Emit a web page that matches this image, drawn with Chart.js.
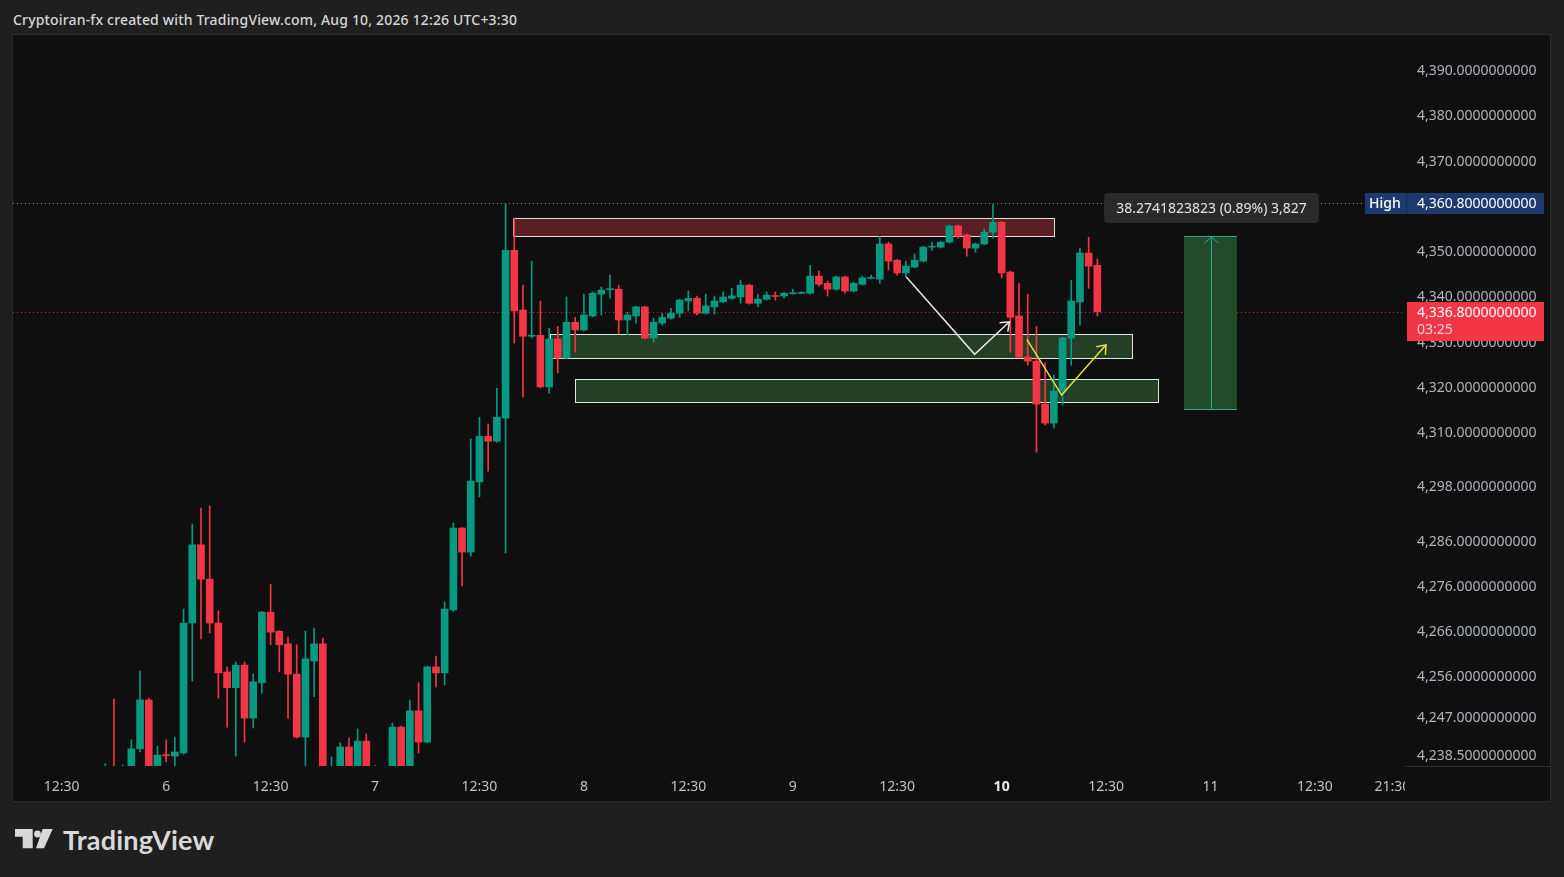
<!DOCTYPE html>
<html>
<head>
<meta charset="utf-8">
<title>XAU 1H</title>
<script src="https://cdn.jsdelivr.net/npm/chart.js@4.4.1/dist/chart.umd.min.js"></script>
<style>
    html, body { margin: 0; padding: 0; width: 1564px; height: 877px; overflow: hidden; background: #1f1f1f; }
    #cabecera { position: absolute; left: 13px; top: 10px; line-height: 19px; font: 500 14px "Noto Sans", sans-serif; letter-spacing: 0.17px; color: #d6d6d6; white-space: nowrap; }
    #panel { position: absolute; left: 12px; top: 34px; width: 1537px; height: 766px; border: 1px solid #2c2c2c; background: #0f0f0f; }
    #panel canvas { display: block; }
    #logo { position: absolute; left: 15px; top: 826px; height: 26px; display: flex; align-items: center; }
    #logo span { margin-left: 10px; font: bold 27px Lato, sans-serif; color: #d9d9d9; letter-spacing: 0.2px; }
</style>
</head>
<body>
<div id="cabecera">Cryptoiran-fx created with TradingView.com, Aug 10, 2026 12:26 UTC+3:30</div>
<div id="panel"><canvas id="grafica" width="1537" height="766"></canvas></div>
<div id="logo">
    <svg width="38" height="20" viewBox="0 0 38 20">
        <path d="M0 0H17.7V19.3H7.7V7.7H0Z" fill="#d9d9d9"/>
        <circle cx="22.5" cy="5" r="3.4" fill="#d9d9d9"/>
        <path d="M27.7 0H37.7L29 19.3H21Z" fill="#d9d9d9"/>
    </svg>
    <span>TradingView</span>
</div>
<script>
"use strict";
/* Velas de 1 hora (índice 0 = primera vela visible a la izquierda) */
const aperturas = [
    4228.0, 4234.0, 4230.0, 4233.0, 4240.2, 4251.0, 4235.0, 4238.9, 4238.6, 4239.3,
    4268.0, 4285.3, 4277.7, 4268.0, 4257.2, 4253.7, 4258.7, 4247.0, 4254.8, 4270.4,
    4266.2, 4263.4, 4256.7, 4242.8, 4259.6, 4263.4, 4229.0, 4234.0, 4240.6, 4234.0,
    4241.9, 4234.0, 4232.0, 4234.0, 4245.0, 4234.0, 4248.6, 4241.7, 4258.3, 4257.0,
    4270.9, 4289.0, 4283.7, 4299.2, 4309.3, 4308.2, 4313.3, 4350.4, 4337.2, 4331.4,
    4331.6, 4320.2, 4330.8, 4326.6, 4334.5, 4332.8, 4335.9, 4340.7, 4341.7, 4341.8,
    4335.0, 4335.9, 4337.9, 4331.0, 4334.3, 4335.4, 4336.5, 4339.2, 4339.8, 4336.5,
    4337.9, 4339.0, 4339.8, 4340.1, 4342.7, 4338.7, 4339.6, 4340.4, 4340.3, 4340.8,
    4340.9, 4340.9, 4344.7, 4343.1, 4341.8, 4344.5, 4341.4, 4342.9, 4344.2, 4344.0,
    4351.8, 4348.2, 4345.4, 4346.7, 4348.0, 4351.1, 4351.1, 4352.2, 4355.8, 4353.8,
    4350.9, 4351.8, 4354.4, 4356.6, 4345.6, 4335.9, 4326.8, 4325.9, 4316.4, 4312.2,
    4319.3, 4331.0, 4339.0, 4349.8, 4347.1
];
const maximos = [
    4236.9, 4251.2, 4236.6, 4242.2, 4257.4, 4251.4, 4240.8, 4242.2, 4242.8, 4271.1,
    4289.9, 4293.4, 4293.9, 4270.7, 4258.3, 4259.4, 4259.4, 4256.7, 4270.6, 4276.6,
    4266.3, 4264.9, 4263.2, 4266.2, 4266.9, 4264.7, 4238.4, 4241.5, 4242.6, 4244.6,
    4243.5, 4236.5, 4235.0, 4245.9, 4245.2, 4251.0, 4254.8, 4258.5, 4260.7, 4272.7,
    4290.1, 4289.1, 4308.7, 4313.5, 4312.0, 4319.9, 4360.8, 4357.5, 4342.7, 4348.0,
    4339.2, 4333.2, 4333.6, 4340.1, 4335.6, 4340.7, 4341.2, 4342.3, 4344.9, 4342.7,
    4336.7, 4338.1, 4338.0, 4335.4, 4336.5, 4337.6, 4339.6, 4341.4, 4340.3, 4340.7,
    4340.3, 4341.2, 4342.0, 4343.8, 4342.9, 4340.7, 4341.2, 4341.2, 4341.1, 4341.8,
    4341.2, 4347.1, 4345.8, 4343.6, 4344.7, 4344.7, 4343.3, 4344.7, 4344.9, 4353.5,
    4352.2, 4348.4, 4348.0, 4349.6, 4351.3, 4352.2, 4352.4, 4356.0, 4356.0, 4354.0,
    4352.0, 4355.1, 4360.5, 4356.8, 4345.8, 4343.1, 4340.7, 4333.6, 4325.5, 4322.8,
    4331.2, 4343.8, 4350.9, 4353.3, 4348.5
];
const minimos = [
    4226.0, 4225.0, 4227.0, 4230.0, 4239.5, 4232.0, 4233.0, 4237.3, 4236.4, 4239.0,
    4255.2, 4264.5, 4265.8, 4251.4, 4245.0, 4238.6, 4241.7, 4244.8, 4252.5, 4263.2,
    4257.2, 4247.0, 4242.6, 4236.4, 4251.7, 4230.0, 4226.0, 4232.0, 4232.0, 4232.0,
    4231.0, 4232.0, 4230.0, 4232.0, 4232.0, 4232.0, 4239.3, 4241.5, 4253.9, 4254.3,
    4270.6, 4276.2, 4282.8, 4295.9, 4301.6, 4308.0, 4283.5, 4329.9, 4318.0, 4331.0,
    4320.0, 4318.8, 4323.3, 4326.4, 4327.9, 4332.6, 4335.7, 4336.1, 4339.8, 4331.9,
    4331.7, 4334.3, 4330.8, 4330.1, 4333.9, 4335.2, 4335.6, 4337.0, 4336.1, 4336.3,
    4336.3, 4338.8, 4339.6, 4338.7, 4338.5, 4337.9, 4339.4, 4339.4, 4339.8, 4340.7,
    4340.8, 4340.7, 4342.5, 4340.3, 4341.6, 4340.9, 4341.2, 4342.7, 4344.1, 4343.1,
    4346.0, 4344.9, 4344.5, 4346.5, 4347.8, 4350.4, 4350.9, 4352.0, 4353.1, 4349.1,
    4350.0, 4351.6, 4353.1, 4344.3, 4327.9, 4326.6, 4325.0, 4305.8, 4311.8, 4311.1,
    4316.2, 4325.0, 4333.9, 4342.0, 4335.9
];
const cierres = [
    4232.0, 4229.0, 4233.0, 4240.2, 4251.0, 4234.0, 4238.8, 4238.7, 4239.5, 4268.0,
    4285.3, 4277.7, 4268.0, 4257.0, 4253.7, 4258.7, 4247.0, 4255.0, 4270.4, 4266.0,
    4263.2, 4256.7, 4242.8, 4260.1, 4263.4, 4233.0, 4233.0, 4240.6, 4234.0, 4241.9,
    4233.0, 4235.0, 4233.0, 4245.0, 4234.0, 4248.6, 4241.7, 4258.3, 4257.0, 4271.1,
    4289.0, 4283.7, 4299.4, 4309.3, 4308.2, 4313.5, 4350.4, 4337.0, 4331.4, 4331.6,
    4320.2, 4330.8, 4326.6, 4334.5, 4332.8, 4336.1, 4340.9, 4341.6, 4341.9, 4335.0,
    4336.1, 4337.9, 4331.0, 4334.5, 4335.6, 4336.5, 4339.4, 4339.8, 4336.5, 4338.1,
    4339.2, 4340.1, 4340.3, 4342.7, 4338.7, 4339.6, 4340.5, 4340.2, 4340.9, 4341.0,
    4341.0, 4344.7, 4342.9, 4341.8, 4344.5, 4341.4, 4343.1, 4344.3, 4344.3, 4351.8,
    4348.0, 4345.4, 4346.9, 4348.2, 4351.1, 4351.3, 4352.2, 4355.8, 4353.5, 4350.9,
    4351.8, 4354.4, 4356.6, 4345.4, 4335.6, 4326.8, 4325.9, 4316.4, 4312.2, 4319.3,
    4331.0, 4339.2, 4349.8, 4346.9, 4336.8
];

/* Eje de tiempo: posición (en velas) y texto */
const posicionesTiempo = [-5, 7, 19, 31, 43, 55, 67, 79, 91, 103, 115, 127, 139, 147.9];
const etiquetasTiempo = ["12:30", "6", "12:30", "7", "12:30", "8", "12:30", "9", "12:30", "10", "12:30", "11", "12:30", "21:30"];

/* Eje de precio */
const marcasPrecio = [4390, 4380, 4370, 4360, 4350, 4340, 4330, 4320, 4310, 4298, 4286, 4276, 4266, 4256, 4247, 4238.5];
const precioMin = 4236.4;
const precioMax = 4398.0;

/* Zonas dibujadas (oferta / demanda) */
const zonaInicio = [46.9, 51.1, 54.0];
const zonaFin = [109.0, 118.0, 121.0];
const zonaArriba = [4357.5, 4331.8, 4321.9];
const zonaAbajo = [4353.5, 4326.7, 4316.9];
const zonaTipo = ["oferta", "demanda", "demanda"];

/* Flechas */
const flechaBlancaX = [92.05, 99.9, 103.9];
const flechaBlancaY = [4344.5, 4327.4, 4334.6];
const flechaAmarillaX = [105.9, 109.9, 115.0];
const flechaAmarillaY = [4330.7, 4318.4, 4329.5];

/* Herramienta de medición */
const medidaX = [123.9, 130.0];
const medidaY = [4315.3, 4353.6];
const medidaTexto = "38.2741823823 (0.89%) 3,827";

/* Precios marcados */
const precioAlto = 4360.8;
const precioUltimo = 4336.8;
const cuentaAtras = "03:25";

const VERDE = "#089981";
const ROJO = "#f23645";
const FONDO = "#0f0f0f";
const FUENTE = "'Noto Sans', sans-serif";

function formatoPrecio(v) {
    return v.toLocaleString("en-US", { minimumFractionDigits: 10, maximumFractionDigits: 10 });
}

const indices = aperturas.map((_, i) => i);
const colores = indices.map(i => cierres[i] >= aperturas[i] ? VERDE : ROJO);

/* Línea quebrada con punta de flecha */
function flecha(ctx, puntos, color) {
    ctx.strokeStyle = color;
    ctx.lineWidth = 1.5;
    ctx.beginPath();
    puntos.forEach((p, k) => k ? ctx.lineTo(p[0], p[1]) : ctx.moveTo(p[0], p[1]));
    ctx.stroke();
    const [px, py] = puntos[puntos.length - 2];
    const [ex, ey] = puntos[puntos.length - 1];
    const ang = Math.atan2(ey - py, ex - px);
    const largo = 10;
    ctx.beginPath();
    ctx.moveTo(ex - largo * Math.cos(ang - 0.65), ey - largo * Math.sin(ang - 0.65));
    ctx.lineTo(ex, ey);
    ctx.lineTo(ex - largo * Math.cos(ang + 0.65), ey - largo * Math.sin(ang + 0.65));
    ctx.stroke();
}

function lineaPunteada(ctx, x0, x1, yy, color) {
    ctx.save();
    ctx.strokeStyle = color;
    ctx.lineWidth = 1;
    ctx.setLineDash([1, 3]);
    ctx.beginPath();
    ctx.moveTo(x0, Math.round(yy) + 0.5);
    ctx.lineTo(x1, Math.round(yy) + 0.5);
    ctx.stroke();
    ctx.restore();
}

/* Dibujos encima y debajo de las velas */
const dibujos = {
    id: "dibujos",
    beforeDatasetsDraw(chart) {
        const { ctx, chartArea: a, scales: { x, y } } = chart;
        ctx.save();
        ctx.beginPath();
        ctx.rect(a.left, a.top, a.width, a.height);
        ctx.clip();

        zonaInicio.forEach((inicio, k) => {
            const x0 = Math.round(x.getPixelForValue(inicio));
            const x1 = Math.round(x.getPixelForValue(zonaFin[k]));
            const y0 = Math.round(y.getPixelForValue(zonaArriba[k]));
            const y1 = Math.round(y.getPixelForValue(zonaAbajo[k]));
            const oferta = zonaTipo[k] === "oferta";
            ctx.fillStyle = oferta ? "#5a1f25" : "#253f27";
            ctx.fillRect(x0, y0, x1 - x0, y1 - y0);
            ctx.strokeStyle = oferta ? "#e9dcdc" : "#dfe9dc";
            ctx.lineWidth = 1;
            ctx.strokeRect(x0 + 0.5, y0 + 0.5, x1 - x0, y1 - y0);
        });

        const yAlto = y.getPixelForValue(precioAlto);
        lineaPunteada(ctx, a.left, a.right - 40, yAlto, "#8a8a8a");
        const yUltimo = y.getPixelForValue(precioUltimo);
        lineaPunteada(ctx, a.left, a.right, yUltimo, "rgba(242,54,69,0.8)");
        ctx.restore();
    },
    afterDatasetsDraw(chart) {
        const { ctx, chartArea: a, scales: { x, y } } = chart;
        ctx.save();
        ctx.beginPath();
        ctx.rect(a.left, a.top, a.width, a.height);
        ctx.clip();

        flecha(ctx, flechaBlancaX.map((v, k) => [x.getPixelForValue(v), y.getPixelForValue(flechaBlancaY[k])]), "#e6e6e6");
        flecha(ctx, flechaAmarillaX.map((v, k) => [x.getPixelForValue(v), y.getPixelForValue(flechaAmarillaY[k])]), "#e3e33f");

        /* Caja de medición */
        const mx0 = Math.round(x.getPixelForValue(medidaX[0]));
        const mx1 = Math.round(x.getPixelForValue(medidaX[1]));
        const myAbajo = Math.round(y.getPixelForValue(medidaY[0]));
        const myArriba = Math.round(y.getPixelForValue(medidaY[1]));
        const cx = Math.round((mx0 + mx1) / 2) + 0.5;
        ctx.fillStyle = "#234a2b";
        ctx.fillRect(mx0, myArriba, mx1 - mx0, myAbajo - myArriba);
        ctx.strokeStyle = "#22ab94";
        ctx.lineWidth = 1;
        ctx.beginPath();
        ctx.moveTo(mx0, myArriba + 0.5); ctx.lineTo(mx1, myArriba + 0.5);
        ctx.moveTo(mx0, myAbajo + 0.5); ctx.lineTo(mx1, myAbajo + 0.5);
        ctx.moveTo(cx, myAbajo); ctx.lineTo(cx, myArriba + 1);
        ctx.moveTo(cx - 7, myArriba + 7); ctx.lineTo(cx, myArriba + 1); ctx.lineTo(cx + 7, myArriba + 7);
        ctx.stroke();

        /* Etiqueta de la medición */
        ctx.font = "14px " + FUENTE;
        const ancho = ctx.measureText(medidaTexto).width + 24;
        const alto = 30;
        const ex = cx - ancho / 2;
        const ey = myArriba - 13 - alto;
        ctx.fillStyle = "#2a2a2a";
        ctx.beginPath();
        ctx.roundRect(ex, ey, ancho, alto, 4);
        ctx.fill();
        ctx.fillStyle = "#e6e6e6";
        ctx.textAlign = "center";
        ctx.textBaseline = "middle";
        ctx.fillText(medidaTexto, cx, ey + alto / 2 + 1);
        ctx.restore();
    },
    afterDraw(chart) {
        const { ctx, chartArea: a, scales: { y } } = chart;
        ctx.save();

        /* Esquina bajo el eje de precios */
        ctx.fillStyle = FONDO;
        ctx.fillRect(a.right, a.bottom, chart.width - a.right, chart.height - a.bottom);
        ctx.strokeStyle = "#2e2e2e";
        ctx.beginPath();
        ctx.moveTo(a.right, a.bottom + 0.5);
        ctx.lineTo(chart.width, a.bottom + 0.5);
        ctx.stroke();

        ctx.textBaseline = "middle";
        ctx.textAlign = "left";

        /* Etiqueta del máximo */
        const yAlto = Math.round(y.getPixelForValue(precioAlto));
        ctx.fillStyle = "#1c3a6f";
        ctx.fillRect(a.right - 40, yAlto - 10, 179, 21);
        ctx.fillStyle = "#132a52";
        ctx.fillRect(a.right + 1, yAlto - 10, 1, 21);
        ctx.fillStyle = "#ffffff";
        ctx.font = "500 14px " + FUENTE;
        ctx.fillText("High", a.right - 36, yAlto + 1);
        ctx.font = "14px " + FUENTE;
        ctx.fillText(formatoPrecio(precioAlto), a.right + 12, yAlto + 1);

        /* Etiqueta del último precio */
        const yUltimo = Math.round(y.getPixelForValue(precioUltimo));
        ctx.fillStyle = ROJO;
        ctx.fillRect(a.right + 2, yUltimo - 10, 137, 39);
        ctx.fillStyle = "#ffffff";
        ctx.fillText(formatoPrecio(precioUltimo), a.right + 12, yUltimo + 1);
        ctx.fillStyle = "#ffd0d4";
        ctx.fillText(cuentaAtras, a.right + 12, yUltimo + 18);
        ctx.restore();
    }
};

/* Crear la gráfica de velas */
function inicializarGrafica() {
    const canvas = document.getElementById("grafica");
    if (!canvas) return;

    new Chart(canvas, {
        type: "bar",
        data: {
            datasets: [{
                label: "Cuerpo",
                data: indices.map(i => ({ x: i, y: [aperturas[i], cierres[i]] })),
                backgroundColor: colores,
                barThickness: 7,
                minBarLength: 1,
                grouped: false,
                clip: 0
            }, {
                label: "Mecha",
                data: indices.map(i => ({ x: i, y: [minimos[i], maximos[i]] })),
                backgroundColor: colores,
                barThickness: 1,
                grouped: false,
                clip: 0
            }]
        },
        options: {
            responsive: false,
            animation: false,
            layout: { padding: 0 },
            plugins: { legend: { display: false }, tooltip: { enabled: false } },
            scales: {
                x: {
                    type: "linear",
                    min: -10.6,
                    max: 149.35,
                    offset: false,
                    grid: { display: false, drawTicks: false },
                    border: { display: false },
                    afterBuildTicks: s => { s.ticks = posicionesTiempo.map(v => ({ value: v })); },
                    afterFit: s => { s.height = 35; s.paddingLeft = 0; s.paddingRight = 0; },
                    ticks: {
                        autoSkip: false,
                        maxRotation: 0,
                        padding: 13,
                        callback: (v, k) => etiquetasTiempo[k],
                        color: c => (c.tick && c.tick.label === "10") ? "#ececec" : "#c2c2c2",
                        font: c => ({ family: FUENTE, size: 14, weight: (c.tick && c.tick.label === "10") ? "bold" : "normal" })
                    }
                },
                y: {
                    position: "right",
                    min: precioMin,
                    max: precioMax,
                    grid: { display: false, drawTicks: false },
                    border: { display: false },
                    afterBuildTicks: s => { s.ticks = marcasPrecio.map(v => ({ value: v })); },
                    afterFit: s => { s.width = 145; s.paddingTop = 0; s.paddingBottom = 0; },
                    ticks: {
                        padding: 12,
                        crossAlign: "near",
                        color: "#b2b5be",
                        font: { family: FUENTE, size: 14 },
                        callback: v => formatoPrecio(v)
                    }
                }
            }
        },
        plugins: [dibujos]
    });
}

inicializarGrafica();
</script>
</body>
</html>
